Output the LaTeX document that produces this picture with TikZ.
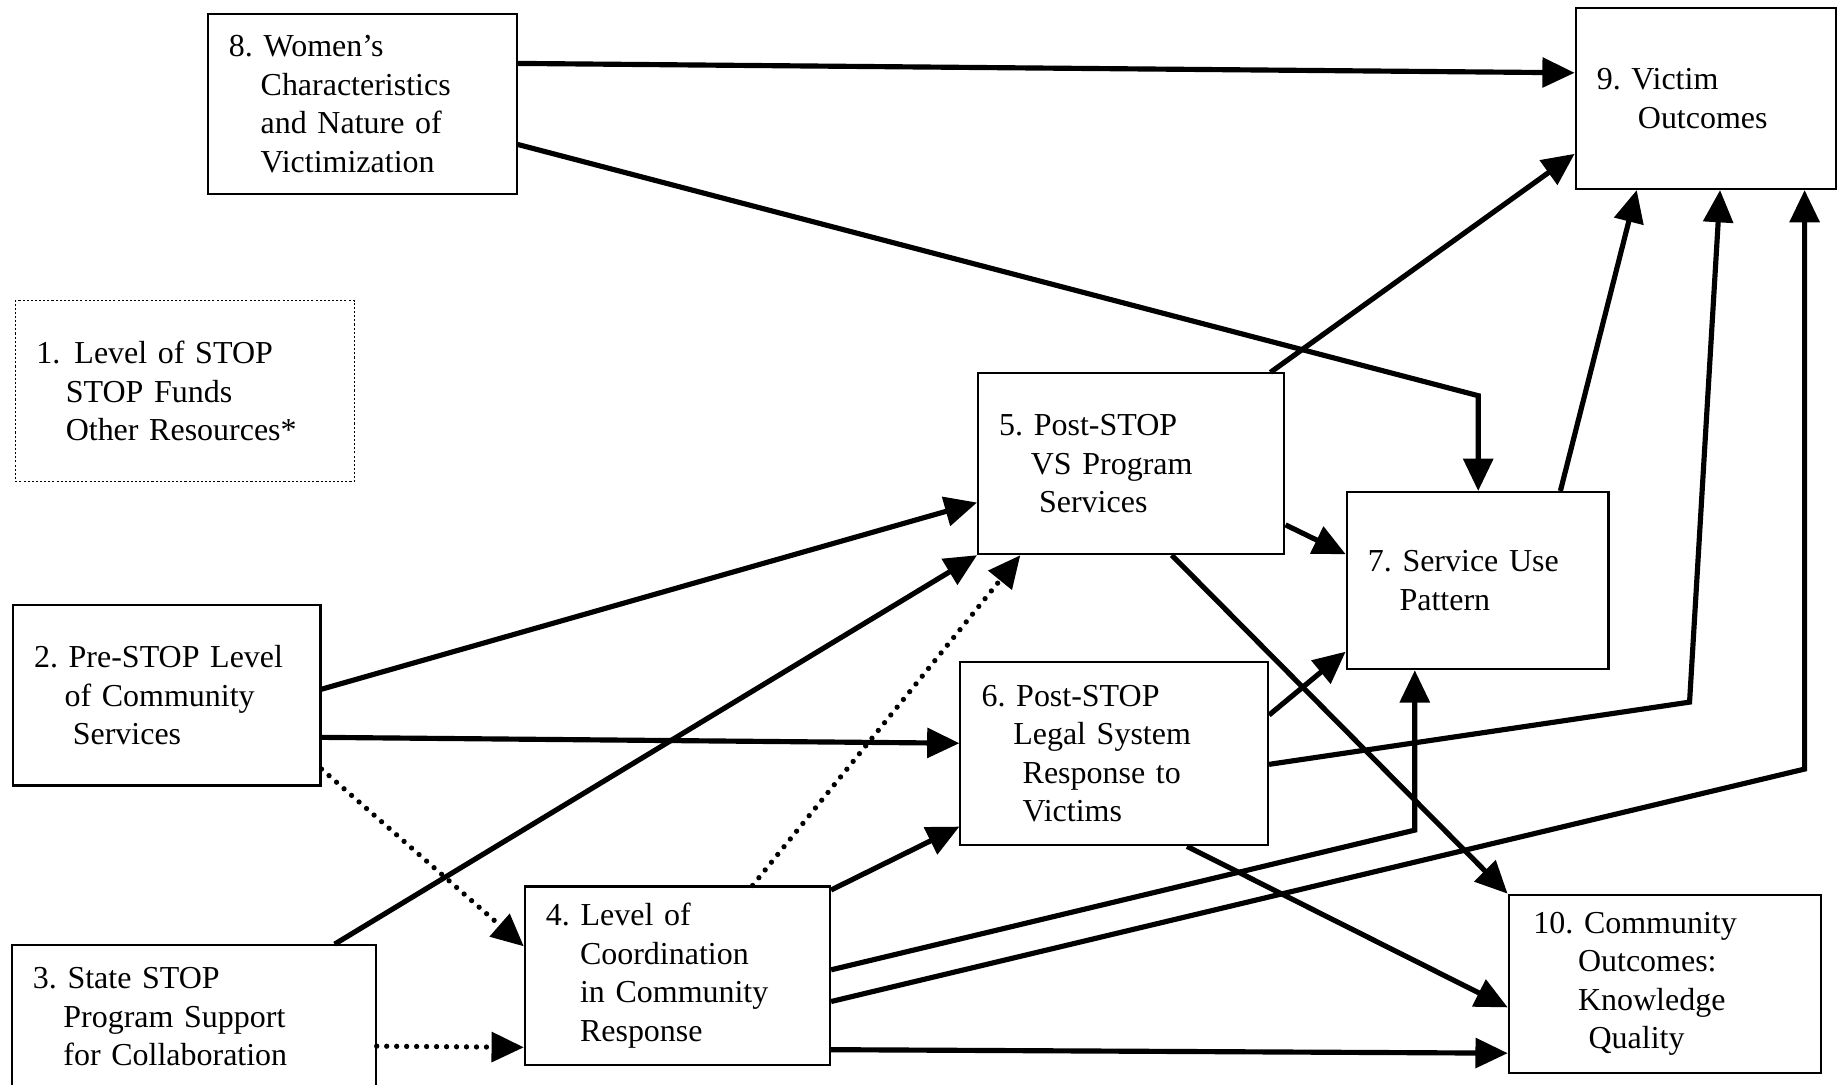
\documentclass[tikz,border=0pt]{standalone}
\usepackage{fontspec}
\setmainfont{Liberation Serif}
\usetikzlibrary{arrows.meta}

\newlength{\pxl}
\setlength{\pxl}{0.02cm}
\newcommand{\indt}[1]{\hspace*{#1\pxl}}
\frenchspacing

\tikzset{
  box/.style={draw, line width=1pt, inner xsep=0.36cm, inner ysep=0pt,
    align=left, font=\fontsize{15.5}{18.7}\selectfont},
  dotbox/.style={box, densely dotted, line width=0.6pt},
  arr/.style={-{Triangle[length=0.55cm, width=0.5cm]}, line width=2.5pt},
  dotarr/.style={arr, line width=0.09cm, line cap=round, dash pattern=on 0pt off 0.17cm},
}

\begin{document}
\begin{tikzpicture}[x=0.02cm, y=-0.02cm]
\useasboundingbox (0,0) rectangle (1568,924);

% boxes
\node[box, minimum width=5.26cm, minimum height=3.06cm, text width=4.54cm] (b8) at (308.5,88.5)
  {8. Women’s\\ \indt{27}Characteristics\\ \indt{27}and Nature of\\ \indt{27}Victimization};
\node[box, minimum width=4.44cm, minimum height=3.08cm, text width=3.72cm] (b9) at (1453,84)
  {9. Victim\\ \indt{35}Outcomes};
\node[dotbox, minimum width=5.78cm, minimum height=3.08cm, text width=5.06cm] (b1) at (157.5,333)
  {1.\indt{12}Level of STOP\\ \indt{25}STOP Funds\\ \indt{25}Other Resources*};
\node[box, minimum width=5.22cm, minimum height=3.08cm, text width=4.5cm] (b5) at (963.5,395)
  {5. Post-STOP\\ \indt{27}VS Program\\ \indt{34}Services};
\node[box, minimum width=4.46cm, minimum height=3.02cm, text width=3.74cm] (b7) at (1258.5,494.5)
  {7. Service Use\\ \indt{27}Pattern};
\node[box, minimum width=5.24cm, minimum height=3.08cm, text width=4.52cm] (b2) at (142,592)
  {2. Pre-STOP Level\\ \indt{26}of Community\\ \indt{33}Services};
\node[box, minimum width=5.24cm, minimum height=3.12cm, text width=4.52cm] (b6) at (949,642)
  {6. Post-STOP\\ \indt{27}Legal System\\ \indt{35}Response to\\ \indt{35}Victims};
\node[box, minimum width=5.2cm, minimum height=3.04cm, text width=4.48cm] (b4) at (577,831)
  {4. Level of\\ \indt{29}Coordination\\ \indt{29}in Community\\ \indt{29}Response};
\node[box, minimum width=6.2cm, minimum height=2.44cm, text width=5.48cm] (b3) at (165,866)
  {3. State STOP\\ \indt{26}Program Support\\ \indt{26}for Collaboration};
\node[box, minimum width=5.32cm, minimum height=3.04cm, text width=4.6cm] (b10) at (1418,838)
  {\indt{3}10. Community\\ \indt{41}Outcomes:\\ \indt{41}Knowledge\\ \indt{50}Quality};

% solid paths
\draw[arr] (b8.east |- 0,54) -- (b9.west |- 0,62);
\draw[arr] (b8.east |- 0,123) -- (1259,337) -- (1259,0 |- b7.north);
\draw[arr] (1082,0 |- b5.north) -- (b9.west |- 0,131);
\draw[arr] (1329,0 |- b7.north) -- (1394,0 |- b9.south);
\draw[arr] (b6.east |- 0,651) -- (1439,598) -- (1465,0 |- b9.south);
\draw[arr] (b4.east |- 0,853) -- (1537,655) -- (1537,0 |- b9.south);
\draw[arr] (b4.east |- 0,826) -- (1205,707) -- (1205,0 |- b7.south);
\draw[arr] (b4.east |- 0,894) -- (b10.west |- 0,897);
\draw[arr] (b4.east |- 0,758) -- (b6.west |- 0,704);
\draw[arr] (285,0 |- b3.north) -- (b5.south west);
\draw[arr] (b2.east |- 0,587) -- (b5.west |- 0,428);
\draw[arr] (b2.east |- 0,628) -- (b6.west |- 0,633);
\draw[arr] (b5.east |- 0,447) -- (b7.west |- 0,472);
\draw[arr] (998,0 |- b5.south) -- (1284,0 |- b10.north);
\draw[arr] (b6.east |- 0,609) -- (b7.west |- 0,555);
\draw[arr] (1011,0 |- b6.south) -- (b10.west |- 0,858);

% dotted paths
\draw[dotarr] (641,0 |- b4.north) -- (869,0 |- b5.south);
\draw[dotarr] (b3.east |- 0,891) -- (b4.west |- 0,892);
\draw[dotarr] (b2.east |- 0,655) -- (b4.west |- 0,806);

\end{tikzpicture}
\end{document}
